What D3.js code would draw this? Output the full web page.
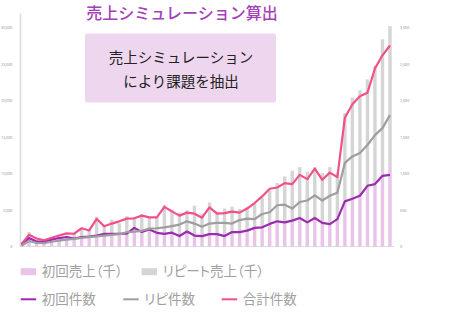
<!DOCTYPE html>
<html lang="ja">
<head>
<meta charset="utf-8">
<script src="https://cdn.jsdelivr.net/npm/d3@7"></script>
<style>
  html, body { margin: 0; padding: 0; background: #fff; }
  svg { display: block; font-family: "Noto Sans CJK JP", "Noto Sans", sans-serif; }
  .legend text { font-feature-settings: "palt"; }
</style>
</head>
<body>
<svg id="chart" width="450" height="325"></svg>
<script>
// 初回売上（千）
const firstSales = [200, 1100, 700, 700, 900, 1100, 1300, 1100, 1300, 1400,
  1500, 1700, 1750, 1750, 1750, 2500, 2000, 2300, 1900, 1750,
  1900, 1450, 2050, 1500, 1450, 1700, 1700, 1450, 2000, 2000,
  2200, 2550, 2650, 3100, 3450, 3300, 3550, 3900, 3300, 3900,
  3250, 3100, 3750, 6200, 6550, 6950, 8300, 8550, 9700, 11000];
// リピート売上（千）
const repeatSales = [100, 900, 250, 160, 290, 220, 200, 770, 1250, 920,
  2600, 1200, 1930, 1450, 2400, 1450, 2480, 1650, 2050, 3950,
  3150, 3200, 2900, 4090, 3050, 4340, 3120, 3750, 3450, 3140,
  3200, 3350, 4050, 4600, 5250, 6300, 6850, 6970, 6970, 7000,
  6800, 7770, 6390, 12100, 13850, 14450, 14600, 16250, 18700, 19200];
// 初回件数
const firstCount = [25, 115, 68, 68, 95, 116, 130, 109, 130, 136,
  150, 173, 175, 175, 175, 255, 200, 232, 187, 173,
  190, 143, 205, 150, 143, 170, 170, 143, 198, 198,
  218, 255, 263, 310, 345, 331, 355, 391, 331, 391,
  323, 307, 375, 618, 655, 696, 832, 855, 968, 982];
// リピ件数
const repeatCount = [10, 75, 50, 45, 65, 80, 95, 105, 118, 128,
  140, 150, 160, 170, 195, 205, 215, 245, 250, 262,
  280, 300, 345, 314, 270, 314, 323, 323, 314, 362,
  382, 375, 445, 470, 565, 573, 520, 610, 630, 700,
  630, 695, 736, 1145, 1234, 1282, 1391, 1527, 1623, 1800];
// 合計件数
const totalCount = [35, 160, 110, 85, 120, 150, 180, 175, 250, 220,
  378, 277, 314, 345, 382, 386, 423, 400, 400, 543,
  481, 423, 464, 450, 395, 536, 450, 457, 477, 464,
  520, 596, 686, 791, 809, 869, 855, 982, 923, 1068,
  914, 1013, 950, 1765, 1950, 2060, 2107, 2440, 2620, 2755];

const salesTicks = [0, 5000, 10000, 15000, 20000, 25000, 30000];
const countTicks = [0, 500, 1000, 1500, 2000, 2500, 3000];

const titleText = "売上シミュレーション算出";
const noteLines = ["売上シミュレーション", "により課題を抽出"];

const barLegend = [
  { label: "初回売上（千）", color: "#e7c4e8" },
  { label: "リピート売上（千）", color: "#d5d5d5" }
];
const lineLegend = [
  { label: "初回件数", color: "#9c2bb0", data: firstCount },
  { label: "リピ件数", color: "#9e9e9e", data: repeatCount },
  { label: "合計件数", color: "#f24f8b", data: totalCount }
];

const svg = d3.select("#chart");
const periods = d3.range(firstSales.length);

const x = d3.scalePoint().domain(periods).range([21.5, 390]);
const ySales = d3.scaleLinear().domain([0, 32000]).range([246.5, 13]);
const yCount = d3.scaleLinear().domain([0, 3200]).range([246.5, 13]);

const tickFont = "3.8px";

// left axis (sales)
const leftAxis = svg.append("g")
  .attr("transform", "translate(20,0)")
  .call(d3.axisLeft(ySales).tickValues(salesTicks).tickFormat(d3.format(",")).tickSize(0).tickPadding(7.5));
leftAxis.select(".domain").attr("stroke", "#dcdcdc").attr("stroke-width", 1.6);
leftAxis.selectAll("text").attr("fill", "#9a9a9a").style("font-size", tickFont).style("font-family", "Roboto, sans-serif");

// right axis (counts)
const rightAxis = svg.append("g")
  .attr("transform", "translate(392,0)")
  .call(d3.axisRight(yCount).tickValues(countTicks).tickFormat(d3.format(",")).tickSize(0).tickPadding(8));
rightAxis.select(".domain").remove();
rightAxis.selectAll("text").attr("fill", "#9a9a9a").style("font-size", tickFont).style("font-family", "Roboto, sans-serif");

// baseline
svg.append("line")
  .attr("x1", 20).attr("x2", 394)
  .attr("y1", ySales(0)).attr("y2", ySales(0))
  .attr("stroke", "#dcdcdc").attr("stroke-width", 1.2);

// stacked bars
const stack = d3.stack().keys(["first", "repeat"])(
  periods.map(i => ({ first: firstSales[i], repeat: repeatSales[i] }))
);
const barW = 3.4;
svg.append("g").selectAll("g")
  .data(stack)
  .join("g")
  .attr("fill", (d, k) => barLegend[k].color)
  .selectAll("rect")
  .data(d => d.map((v, i) => ({ v, i })))
  .join("rect")
  .attr("x", d => x(d.i) - barW / 2)
  .attr("width", barW)
  .attr("y", d => ySales(d.v[1]))
  .attr("height", d => ySales(d.v[0]) - ySales(d.v[1]));

// count lines
const line = d3.line().x((d, i) => x(i)).y(d => yCount(d));
svg.append("g").selectAll("path")
  .data(lineLegend)
  .join("path")
  .attr("fill", "none")
  .attr("stroke", d => d.color)
  .attr("stroke-width", 2.2)
  .attr("stroke-linejoin", "round")
  .attr("d", d => line(d.data));

// title
svg.append("text")
  .attr("x", 182).attr("y", 19)
  .attr("text-anchor", "middle")
  .attr("fill", "#a540b7")
  .style("font-size", "16px")
  .style("font-weight", 500)
  .text(titleText);

// note box
svg.append("rect")
  .attr("x", 85).attr("y", 33.5)
  .attr("width", 191).attr("height", 69)
  .attr("rx", 2.5)
  .attr("fill", "#efd6ef");
svg.append("g").selectAll("text")
  .data(noteLines)
  .join("text")
  .attr("x", 181)
  .attr("y", (d, i) => 63 + i * 24)
  .attr("text-anchor", "middle")
  .attr("fill", "#222")
  .style("font-size", "14.5px")
  .text(d => d);

// legend
const legend = svg.append("g").attr("class", "legend");
const barLegendX = [20.7, 141.7];
const barItems = legend.selectAll("g.bar-item")
  .data(barLegend)
  .join("g")
  .attr("class", "bar-item")
  .attr("transform", (d, i) => `translate(${barLegendX[i]},271.7)`);
barItems.append("rect")
  .attr("x", 0).attr("y", -3.5)
  .attr("width", 15.3).attr("height", 7)
  .attr("fill", d => d.color);
barItems.append("text")
  .attr("x", 21).attr("y", 0)
  .attr("dy", "0.35em")
  .attr("fill", "#a0a0a0")
  .style("font-size", "13.5px")
  .text(d => d.label);

const lineLegendX = [20.7, 123.3, 221.7];
const lineItems = legend.selectAll("g.line-item")
  .data(lineLegend)
  .join("g")
  .attr("class", "line-item")
  .attr("transform", (d, i) => `translate(${lineLegendX[i]},299.3)`);
lineItems.append("line")
  .attr("x1", 0).attr("x2", 15.5)
  .attr("y1", 0).attr("y2", 0)
  .attr("stroke", d => d.color)
  .attr("stroke-width", 2);
lineItems.append("text")
  .attr("x", 21).attr("y", 0)
  .attr("dy", "0.35em")
  .attr("fill", "#a0a0a0")
  .style("font-size", "13.5px")
  .text(d => d.label);
</script>
</body>
</html>
